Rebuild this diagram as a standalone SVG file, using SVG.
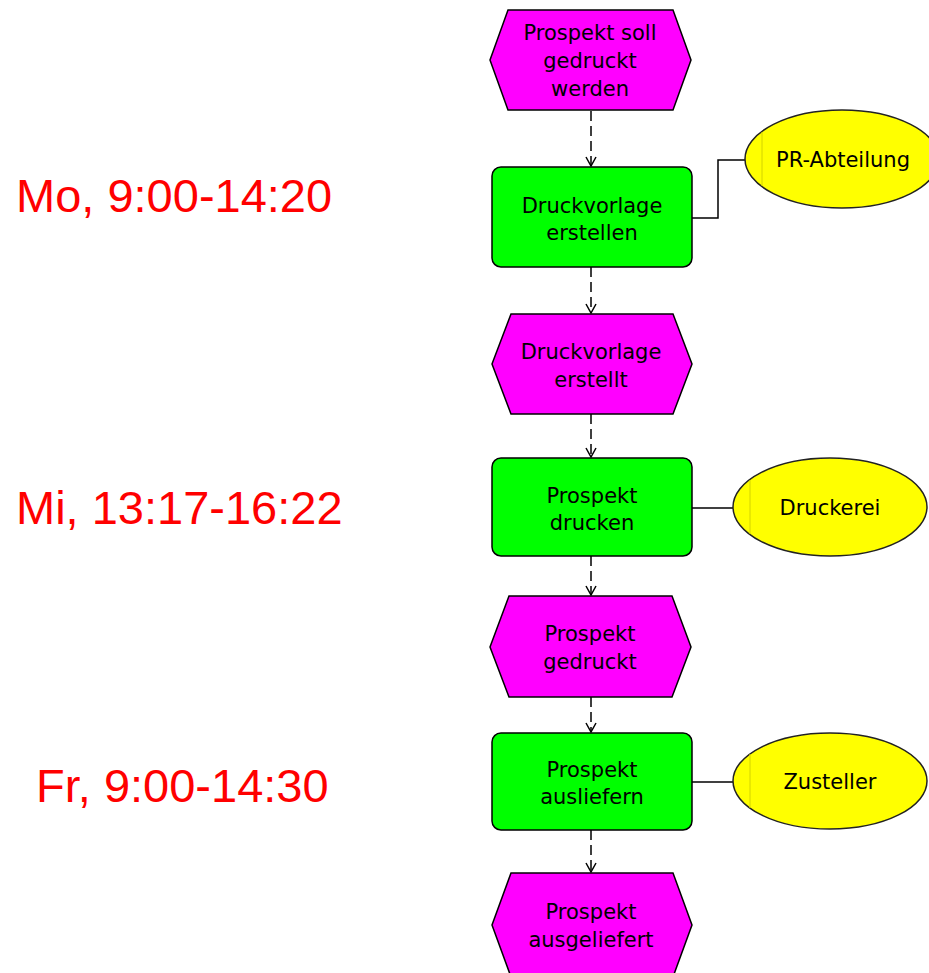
<svg xmlns="http://www.w3.org/2000/svg" width="929" height="973" viewBox="0 0 929 973">
  <style>
    .event { fill: #ff00ff; stroke: #000; stroke-width: 1.5; stroke-linejoin: miter; }
    .func { fill: #00ff00; stroke: #000; stroke-width: 1.5; }
    .org { fill: #ffff00; stroke: #222; stroke-width: 1.5; }
    .orgline { stroke: #d4d400; stroke-width: 1; }
    .lbl { font-family: "DejaVu Sans", Verdana, sans-serif; font-size: 21px; fill: #000; text-anchor: middle; }
    .time { font-family: "Liberation Sans", Arial, sans-serif; font-size: 47px; fill: #ff0000; }
    .flow { fill: none; stroke: #000; stroke-width: 1.5; stroke-dasharray: 10 5; }
    .assoc { fill: none; stroke: #000; stroke-width: 1.5; }
  </style>
  <defs>
    <marker id="open-arrow" viewBox="0 0 12 12" refX="11" refY="6" markerWidth="12" markerHeight="12" markerUnits="userSpaceOnUse" orient="auto">
      <path d="M2,1 L11,6 L2,11" fill="none" stroke="#000" stroke-width="1.5"/>
    </marker>
  </defs>

  <rect width="929" height="973" fill="#fff"/>

  <!-- time annotations -->
  <g id="times">
    <text class="time" x="16" y="212">Mo, 9:00-14:20</text>
    <text class="time" x="16" y="524">Mi, 13:17-16:22</text>
    <text class="time" x="36" y="802">Fr, 9:00-14:30</text>
  </g>

  <!-- connectors -->
  <g id="connectors">
    <line class="flow" x1="591" y1="111" x2="591" y2="166" marker-end="url(#open-arrow)"/>
    <line class="flow" x1="591" y1="267" x2="591" y2="313" marker-end="url(#open-arrow)"/>
    <line class="flow" x1="591" y1="414" x2="591" y2="457" marker-end="url(#open-arrow)"/>
    <line class="flow" x1="591" y1="556" x2="591" y2="595" marker-end="url(#open-arrow)"/>
    <line class="flow" x1="591" y1="697" x2="591" y2="732" marker-end="url(#open-arrow)"/>
    <line class="flow" x1="591" y1="830" x2="591" y2="872" marker-end="url(#open-arrow)"/>
    <polyline class="assoc" points="692,218 718,218 718,160 745,160"/>
    <line class="assoc" x1="692" y1="508" x2="733" y2="508"/>
    <line class="assoc" x1="692" y1="782" x2="733" y2="782"/>
  </g>

  <!-- events -->
  <g id="ev-prospekt-soll-gedruckt-werden">
    <polygon class="event" points="508,10 673,10 691,60 673,110 508,110 490,60"/>
    <text class="lbl" x="590" y="40">Prospekt soll</text>
    <text class="lbl" x="590" y="68">gedruckt</text>
    <text class="lbl" x="590" y="96">werden</text>
  </g>
  <g id="ev-druckvorlage-erstellt">
    <polygon class="event" points="511,314 673,314 692,364 673,414 511,414 492,364"/>
    <text class="lbl" x="591" y="359">Druckvorlage</text>
    <text class="lbl" x="591" y="387">erstellt</text>
  </g>
  <g id="ev-prospekt-gedruckt">
    <polygon class="event" points="509,596 672,596 691,647 672,697 509,697 490,647"/>
    <text class="lbl" x="590" y="641">Prospekt</text>
    <text class="lbl" x="590" y="669">gedruckt</text>
  </g>
  <g id="ev-prospekt-ausgeliefert">
    <polygon class="event" points="511,873 673,873 692,925 673,977 511,977 492,925"/>
    <text class="lbl" x="591" y="919">Prospekt</text>
    <text class="lbl" x="591" y="947">ausgeliefert</text>
  </g>

  <!-- functions -->
  <g id="fn-druckvorlage-erstellen">
    <rect class="func" x="492" y="167" width="200" height="100" rx="9"/>
    <text class="lbl" x="592" y="213">Druckvorlage</text>
    <text class="lbl" x="592" y="240">erstellen</text>
  </g>
  <g id="fn-prospekt-drucken">
    <rect class="func" x="492" y="458" width="200" height="98" rx="9"/>
    <text class="lbl" x="592" y="503">Prospekt</text>
    <text class="lbl" x="592" y="530">drucken</text>
  </g>
  <g id="fn-prospekt-ausliefern">
    <rect class="func" x="492" y="733" width="200" height="97" rx="9"/>
    <text class="lbl" x="592" y="777">Prospekt</text>
    <text class="lbl" x="592" y="804">ausliefern</text>
  </g>

  <!-- organisational units -->
  <g id="org-pr-abteilung">
    <ellipse class="org" cx="842" cy="159" rx="97" ry="49"/>
    <line class="orgline" x1="762" y1="132" x2="762" y2="186"/>
    <text class="lbl" x="843" y="167">PR-Abteilung</text>
  </g>
  <g id="org-druckerei">
    <ellipse class="org" cx="830" cy="507" rx="97" ry="49"/>
    <line class="orgline" x1="750" y1="480" x2="750" y2="534"/>
    <text class="lbl" x="830" y="515">Druckerei</text>
  </g>
  <g id="org-zusteller">
    <ellipse class="org" cx="830" cy="781" rx="97" ry="48"/>
    <line class="orgline" x1="750" y1="754" x2="750" y2="808"/>
    <text class="lbl" x="830" y="789">Zusteller</text>
  </g>
</svg>
